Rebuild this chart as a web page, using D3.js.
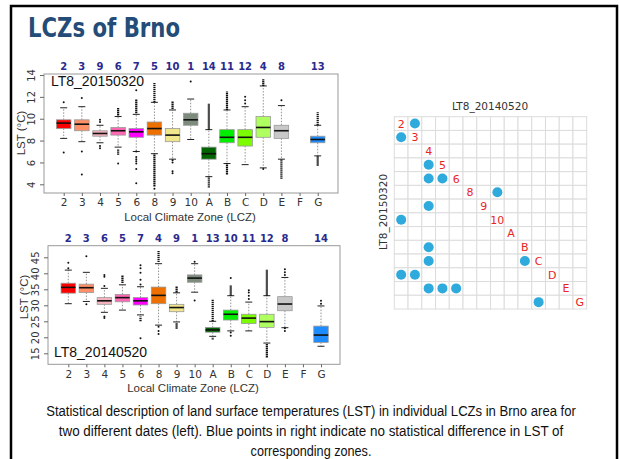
<!DOCTYPE html>
<html>
<head>
<meta charset="utf-8">
<script src="https://cdn.jsdelivr.net/npm/d3@7"></script>
<style>
  body { margin: 0; background: #fff; }
  text { font-family: "Liberation Sans", Arial, sans-serif; }
</style>
</head>
<body>
<div id="chart"></div>
<script>
// categories
const cats = ['2','3','4','5','6','8','9','10','A','B','C','D','E','F','G'];
const boxColors = ['#ff0000','#ff8f66','#f5b3be','#ff69b4','#ff00ff','#ee7000','#f0e68c','#7d8b7d',
  '#006400','#00ee00','#7cfc00','#b0ff60','#c8c8c8',null,'#1e8cff'];

// rank labels above the boxes
const rank2015 = ['2','3','9','6','7','5','10','1','14','11','12','4','8','','13'];
const rank2014 = ['2','3','6','5','7','4','9','1','13','10','11','12','8','','14'];

// LT8_20150320 box stats
const low2015  = [8.2, 7.9, 7.8, 7.4, 7.0, 6.8, 6.3, 8.1, 4.7, 5.9, 5.8, 5.5, 6.3, null, 6.6];
const q1_2015  = [9.1, 8.9, 8.4, 8.5, 8.3, 8.5, 7.9, 9.4, 6.3, 7.8, 7.5, 8.3, 8.2, null, 7.8];
const med2015  = [9.6, 9.5, 8.65, 8.9, 8.8, 9.1, 8.5, 9.9, 6.8, 8.3, 8.3, 9.2, 8.9, null, 8.1];
const q3_2015  = [9.9, 9.9, 8.9, 9.2, 9.1, 9.7, 9.1, 10.5, 7.4, 9.0, 9.0, 10.2, 9.4, null, 8.4];
const high2015 = [11.0, 11.1, 9.4, 10.2, 10.4, 11.5, 10.8, 11.8, 9.0, 10.8, 11.1, 13.0, 11.2, null, 9.4];
// single outliers [category, value]
const out2015 = [['2',11.5],['2',6.9],['3',11.9],['3',7.0],['3',4.9],['4',9.9],['4',9.7],['4',7.5],['4',7.3],
  ['5',5.9],['6',12.6],['6',7.0],['6',6.5],['6',6.3],['6',6.1],['6',5.9],['6',5.4],['6',4.1],['8',3.6],
  ['9',6.2],['9',6.0],['9',5.2],['9',5.0],['10',13.4],['C',11.4],['C',11.7],['C',12.0],['D',5.4],['E',11.7]];
// dense outlier runs [category, from, to]
const runs2015 = [['5',10.3,11.0],['5',6.7,7.2],['6',10.5,11.8],['8',11.5,13.3],['8',3.8,6.8],['9',10.9,11.6],
  ['A',9.0,11.4],['A',3.7,4.7],['B',10.8,12.5],['B',4.9,6.0],['D',13.0,13.6],['E',4.5,6.3],['G',9.4,10.6],['G',5.7,6.6]];

// LT8_20140520 box stats
const low2014  = [30.5, 31.2, 27.8, 28.5, 27.0, 23.8, 24.8, 34.1, 20.3, 22.0, 22.0, 18.2, 23.0, null, 17.2];
const q1_2014  = [33.8, 34.0, 30.3, 31.1, 30.1, 30.5, 28.0, 37.2, 21.6, 25.4, 24.3, 23.1, 28.3, null, 18.4];
const med2014  = [35.6, 35.5, 31.4, 32.4, 31.4, 33.1, 29.3, 38.5, 22.3, 27.2, 26.0, 24.9, 30.4, null, 20.7];
const q3_2014  = [36.9, 36.6, 32.4, 33.4, 32.4, 35.7, 30.3, 39.5, 23.1, 28.5, 27.2, 27.2, 32.7, null, 23.5];
const high2014 = [41.0, 40.3, 35.3, 36.4, 35.8, 43.0, 33.9, 43.0, 25.0, 33.0, 31.0, 33.0, 38.7, null, 29.8];
const out2014 = [['2',43.3],['2',41.6],['3',45.3],['3',30.3],['4',39.5],['4',38.9],['4',36.0],['4',26.5],['4',26.0],
  ['6',42.5],['6',41.6],['6',40.2],['6',38.0],['6',36.5],['6',19.7],['8',23.3],['8',22.0],['8',21.0],
  ['10',43.6],['10',31.5],['B',38.5],['B',21.5],['B',20.5],['C',32.0],['C',33.0],['C',34.0],['C',34.7],
  ['E',39.5],['E',40.3],['E',41.3],['E',22.8],['E',22.0],['G',30.5],['G',31.4]];
const runs2014 = [['5',37.0,39.5],['6',25.0,26.5],['8',43.5,47.0],['9',34.0,36.0],['9',22.7,24.5],
  ['A',25.0,32.0],['A',19.3,20.0],['B',33.0,36.3],['D',33.0,41.2],['D',13.7,18.0]];

// matrix of no-difference pairs [row (LT8_20150320), column (LT8_20140520)]
const mcats = ['2','3','4','5','6','8','9','10','A','B','C','D','E','G'];
const samePairs = [['2','3'],['3','2'],['5','4'],['6','4'],['6','5'],['8','10'],['9','4'],['10','2'],
  ['B','4'],['C','4'],['C','B'],['D','2'],['D','3'],['E','4'],['E','5'],['E','6'],['G','C']];

const yTicks2015 = [4, 6, 8, 10, 12, 14];
const yTicks2014 = [15, 20, 25, 30, 35, 40, 45];

const captionLines = [
  'Statistical description of land surface temperatures (LST) in individual LCZs in Brno area for',
  'two different dates (left). Blue points in right indicate no statistical difference in LST of',
  'corresponding zones.'
];

const svg = d3.select('#chart').append('svg')
  .attr('width', 620)
  .attr('height', 459)
  .style('display', 'block');

svg.append('rect').attr('width', 620).attr('height', 459).attr('fill', '#fff');

// frame
svg.append('rect')
  .attr('x', 11).attr('y', 6).attr('width', 606).attr('height', 470)
  .attr('fill', 'none').attr('stroke', '#000').attr('stroke-width', 2.5);

svg.append('text')
  .attr('x', 28).attr('y', 37)
  .attr('font-size', 26).attr('font-weight', 'bold')
  .attr('fill', '#244c78')
  .style('font-family', '"DejaVu Sans", sans-serif')
  .attr('textLength', 152).attr('lengthAdjust', 'spacingAndGlyphs')
  .text('LCZs of Brno');

const boxplot = (cfg) => {
  const x = d3.scalePoint().domain(cats).range(cfg.xr);
  const y = d3.scaleLinear().domain(cfg.yd).range(cfg.yr);
  const g = svg.append('g');
  const bw = 14.5, cw = 7;

  // plot frame
  g.append('rect')
    .attr('x', cfg.box[0]).attr('y', cfg.box[1])
    .attr('width', cfg.box[2] - cfg.box[0]).attr('height', cfg.box[3] - cfg.box[1])
    .attr('fill', 'none').attr('stroke', '#999').attr('stroke-width', 1);

  // y axis
  const ya = g.append('g').attr('transform', `translate(${cfg.box[0]},0)`)
    .call(d3.axisLeft(y).tickValues(cfg.yTicks).tickSize(4).tickPadding(3));
  ya.select('.domain').remove();
  ya.selectAll('line').attr('stroke', '#666');
  ya.selectAll('text')
    .attr('transform', 'rotate(-90)')
    .attr('x', 0).attr('dy', 0).attr('y', -9)
    .attr('text-anchor', 'middle')
    .attr('font-size', 10).attr('fill', '#333')
    .style('font-family', '"DejaVu Sans", sans-serif');

  // x axis
  const xa = g.append('g').attr('transform', `translate(0,${cfg.box[3]})`)
    .call(d3.axisBottom(x).tickSize(3).tickPadding(3));
  xa.select('.domain').remove();
  xa.selectAll('line').attr('stroke', '#666');
  xa.selectAll('text').attr('font-size', 10.5).attr('fill', '#333')
    .style('font-family', '"DejaVu Sans", sans-serif');

  g.append('text')
    .attr('x', (cfg.box[0] + cfg.box[2]) / 2 - 1).attr('y', cfg.box[3] + 28)
    .attr('text-anchor', 'middle').attr('font-size', 11.5).attr('fill', '#333')
    .text('Local Climate Zone (LCZ)');

  g.append('text')
    .attr('transform', `translate(${cfg.ylabX},${cfg.ylabY}) rotate(-90)`)
    .attr('text-anchor', 'middle').attr('font-size', 11.5).attr('fill', '#333')
    .text('LST (°C)');

  // rank numbers
  g.selectAll('.rank').data(cfg.rank).join('text')
    .attr('x', (d, i) => x(cats[i])).attr('y', cfg.rankY)
    .attr('text-anchor', 'middle').attr('font-size', 10).attr('font-weight', 'bold')
    .attr('fill', '#2a2a8e')
    .style('font-family', '"DejaVu Sans", sans-serif')
    .text(d => d);

  g.append('text')
    .attr('x', cfg.tagX).attr('y', cfg.tagY)
    .attr('font-size', 14).attr('fill', '#111')
    .text(cfg.tag);

  const idx = cats.map((c, i) => i).filter(i => cfg.med[i] != null);

  // whiskers
  idx.forEach(i => {
    const cx = x(cats[i]);
    g.append('line').attr('x1', cx).attr('x2', cx)
      .attr('y1', y(cfg.q3[i])).attr('y2', y(cfg.hi[i]))
      .attr('stroke', '#777').attr('stroke-width', 0.8).attr('stroke-dasharray', '1.5,1.5');
    g.append('line').attr('x1', cx).attr('x2', cx)
      .attr('y1', y(cfg.q1[i])).attr('y2', y(cfg.lo[i]))
      .attr('stroke', '#777').attr('stroke-width', 0.8).attr('stroke-dasharray', '1.5,1.5');
    [cfg.hi[i], cfg.lo[i]].forEach(v => {
      g.append('line').attr('x1', cx - cw / 2).attr('x2', cx + cw / 2)
        .attr('y1', y(v)).attr('y2', y(v)).attr('stroke', '#222').attr('stroke-width', 1);
    });
  });

  // outlier runs
  g.selectAll('.run').data(cfg.runs).join('line')
    .attr('x1', d => x(d[0])).attr('x2', d => x(d[0]))
    .attr('y1', d => y(d[1])).attr('y2', d => y(d[2]))
    .attr('stroke', '#111').attr('stroke-width', 2.2).attr('stroke-dasharray', '1.4,0.6');

  g.selectAll('.pt').data(cfg.out).join('circle')
    .attr('cx', d => x(d[0])).attr('cy', d => y(d[1])).attr('r', 1)
    .attr('fill', '#111');

  // boxes
  g.selectAll('.bx').data(idx).join('rect')
    .attr('x', i => x(cats[i]) - bw / 2).attr('width', bw)
    .attr('y', i => y(cfg.q3[i])).attr('height', i => y(cfg.q1[i]) - y(cfg.q3[i]))
    .attr('fill', i => boxColors[i]).attr('stroke', '#9a9a9a').attr('stroke-width', 0.8);

  g.selectAll('.md').data(idx).join('line')
    .attr('x1', i => x(cats[i]) - bw / 2).attr('x2', i => x(cats[i]) + bw / 2)
    .attr('y1', i => y(cfg.med[i])).attr('y2', i => y(cfg.med[i]))
    .attr('stroke', '#111').attr('stroke-width', 1.6);
};

boxplot({
  xr: [63.7, 317.7], yd: [4, 14], yr: [184.3, 75], box: [44, 74, 338, 193],
  yTicks: yTicks2015, rank: rank2015, rankY: 70, tag: 'LT8_20150320', tagX: 51, tagY: 86,
  ylabX: 25, ylabY: 133,
  lo: low2015, q1: q1_2015, med: med2015, q3: q3_2015, hi: high2015, out: out2015, runs: runs2015
});

boxplot({
  xr: [68.3, 321], yd: [15, 45], yr: [353.3, 257.3], box: [48, 245.7, 340, 364.3],
  yTicks: yTicks2014, rank: rank2014, rankY: 241.5, tag: 'LT8_20140520', tagX: 54, tagY: 357,
  ylabX: 28, ylabY: 297,
  lo: low2014, q1: q1_2014, med: med2014, q3: q3_2014, hi: high2014, out: out2014, runs: runs2014
});

// matrix
const mx = d3.scaleBand().domain(mcats).range([394.3, 586.7]);
const my = d3.scaleBand().domain(mcats).range([116.7, 309]);
const mg = svg.append('g');
const cells = [];
mcats.forEach(r => mcats.forEach(c => cells.push([r, c])));
mg.selectAll('.cell').data(cells).join('rect')
  .attr('x', d => mx(d[1])).attr('y', d => my(d[0]))
  .attr('width', mx.bandwidth()).attr('height', my.bandwidth())
  .attr('fill', '#fff').attr('stroke', '#dcdcdc').attr('stroke-width', 1);
mg.selectAll('.dg').data(mcats).join('text')
  .attr('x', d => mx(d) + mx.bandwidth() / 2).attr('y', d => my(d) + my.bandwidth() / 2 + 4)
  .attr('text-anchor', 'middle').attr('font-size', 11).attr('fill', '#e8251f')
  .style('font-family', '"DejaVu Sans", sans-serif')
  .text(d => d);
mg.selectAll('.dot').data(samePairs).join('circle')
  .attr('cx', d => mx(d[1]) + mx.bandwidth() / 2).attr('cy', d => my(d[0]) + my.bandwidth() / 2)
  .attr('r', 5).attr('fill', '#2eaadc');
mg.append('text')
  .attr('x', 490).attr('y', 110).attr('text-anchor', 'middle').attr('font-size', 10.5).attr('fill', '#333')
  .style('font-family', '"DejaVu Sans", sans-serif')
  .text('LT8_20140520');
mg.append('text')
  .attr('transform', 'translate(387,212) rotate(-90)')
  .attr('text-anchor', 'middle').attr('font-size', 10.5).attr('fill', '#333')
  .style('font-family', '"DejaVu Sans", sans-serif')
  .text('LT8_20150320');

// caption: squeeze horizontally to the reference's line widths
const capW = [530, 505, null];
svg.selectAll('.cap').data(captionLines).join('text')
  .attr('text-anchor', 'middle').attr('font-size', 15).attr('fill', '#111')
  .text(d => d)
  .each(function (d, i) {
    const nat = this.getComputedTextLength();
    const k = capW[i] ? Math.min(1, capW[i] / nat) : Math.min(1, 530 / 628);
    d3.select(this).attr('transform', `translate(311,${416 + i * 20}) scale(${k},1)`);
  });
</script>
</body>
</html>
